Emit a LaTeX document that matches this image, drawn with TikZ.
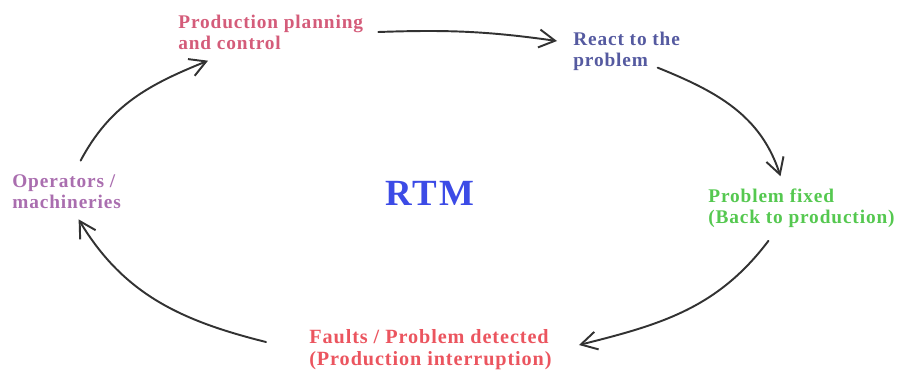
\documentclass[tikz,border=0pt]{standalone}
\usepackage{fontspec}
\setmainfont{Liberation Serif}[LetterSpace=4.5]
\usetikzlibrary{arrows.meta}
\definecolor{planpink}{RGB}{212,92,122}
\definecolor{reactblue}{RGB}{85,90,160}
\definecolor{operpurple}{RGB}{170,110,175}
\definecolor{rtmblue}{RGB}{60,75,230}
\definecolor{fixgreen}{RGB}{85,200,80}
\definecolor{faultred}{RGB}{235,85,95}
\definecolor{arrowgray}{RGB}{50,50,50}
\begin{document}
\begin{tikzpicture}[
        stage/.style={anchor=west, inner sep=0pt, align=left,
            font=\fontsize{11}{12}\selectfont\bfseries},
        flow/.style={-{Straight Barb[length=3.2mm,width=3.6mm]},
            draw=arrowgray, line width=1.1pt, line cap=round}]

        \useasboundingbox (0,0) rectangle (17.98,7.38);

        % NODES
        % planning
        \node[stage, text=planpink] (plan) at (3.56,6.74) {Production planning\\and control};
        % react
        \node[stage, text=reactblue] (react) at (11.46,6.36) {React to the\\problem};
        % operators
        \node[stage, text=operpurple] (oper) at (0.24,3.54) {Operators /\\machineries};
        % centre
        \node[text=rtmblue, font=\fontsize{21}{24}\selectfont\bfseries] (rtm) at (8.6,3.52) {RTM};
        % fixed
        \node[stage, text=fixgreen] (fixed) at (14.16,3.22) {Problem fixed\\(Back to production)};
        % faults
        \node[stage, text=faultred, font=\fontsize{11.5}{12.5}\selectfont\bfseries] (faults) at (6.18,0.38) {Faults / Problem detected\\(Production interruption)};

        % ARROWS
        \draw[flow] ([xshift=0.3cm]plan.east) to[out=2, in=172] ([shift={(-0.32,0.2)}]react.west);
        \draw[flow] ([shift={(0.62,0.06)}]react.south) to[out=-22, in=108] ([shift={(-0.42,0.24)}]fixed.north);
        \draw[flow] ([shift={(-0.66,-0.26)}]fixed.south) to[out=-127, in=14] ([shift={(0.54,0.1)}]faults.east);
        \draw[flow] ([shift={(-0.86,0.16)}]faults.west) to[out=166, in=-59] ([shift={(0.24,-0.2)}]oper.south);
        \draw[flow] ([shift={(0.28,0.28)}]oper.north) to[out=62, in=-158] ([shift={(0.6,-0.22)}]plan.south west);
\end{tikzpicture}
\end{document}
